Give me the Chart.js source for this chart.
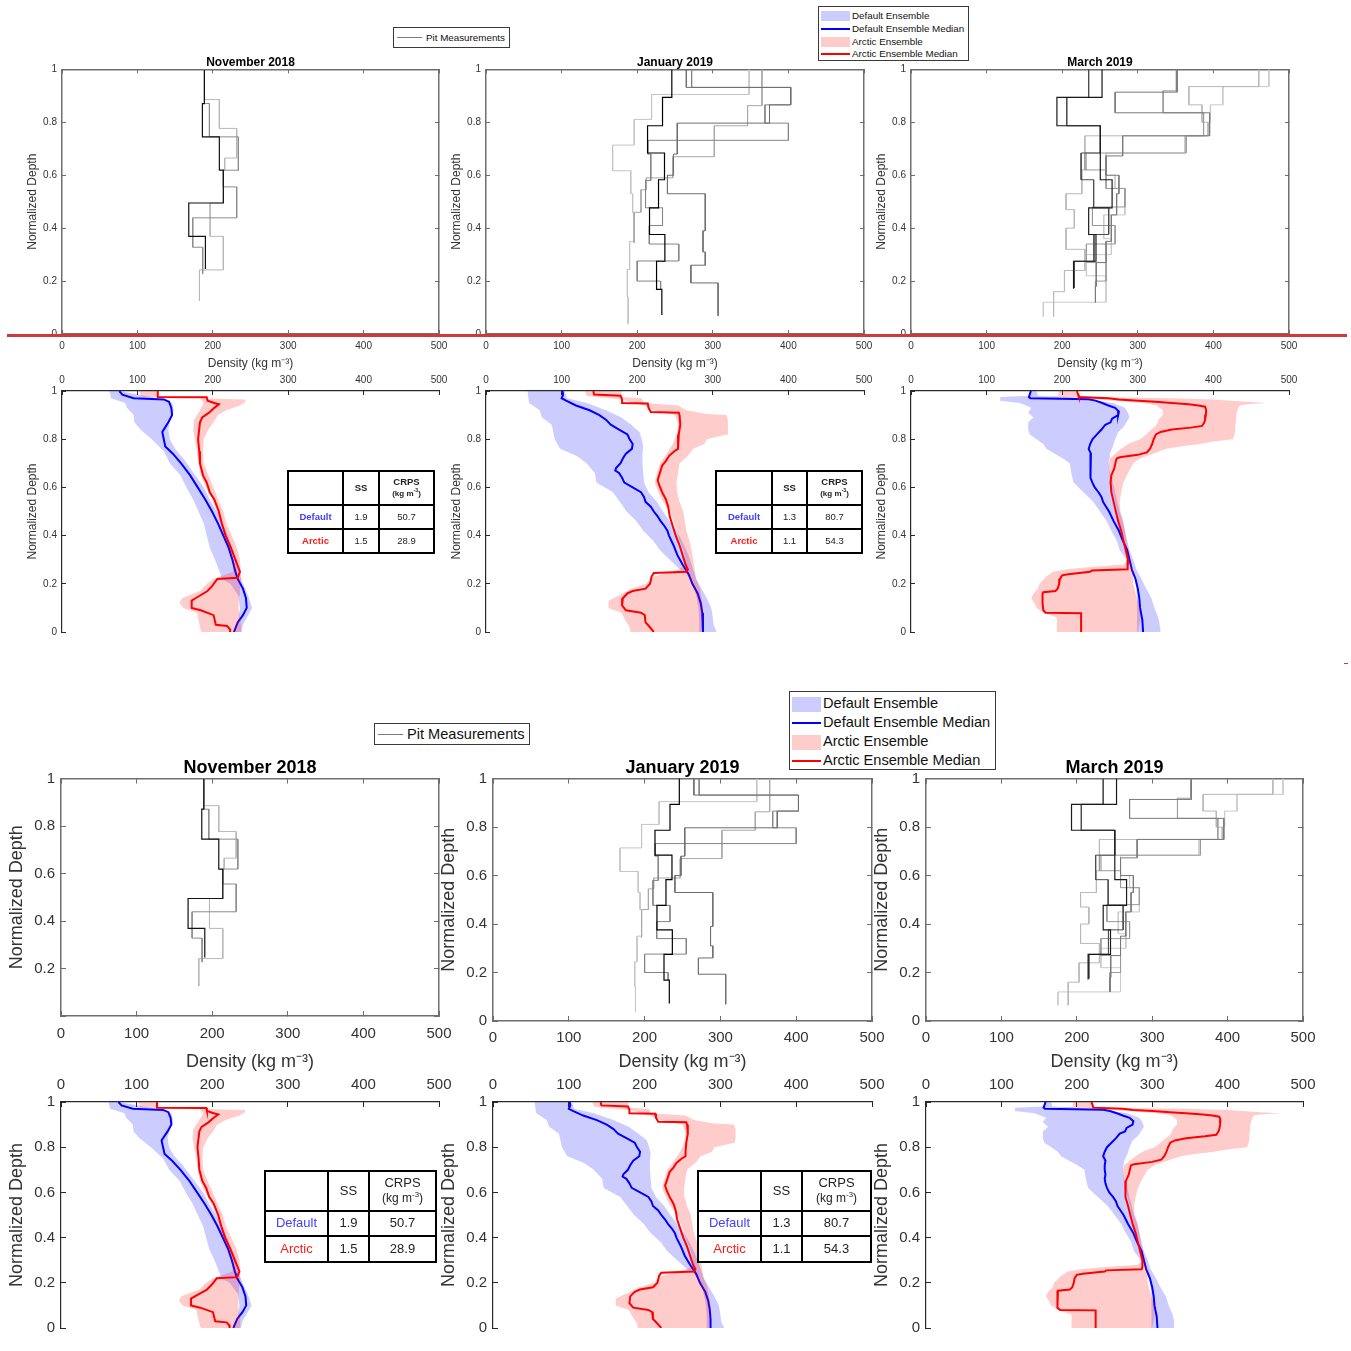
<!DOCTYPE html>
<html>
<head>
<meta charset="utf-8">
<script src="https://cdn.jsdelivr.net/npm/chart.js@4.4.1/dist/chart.umd.min.js"></script>
<style>
html,body{margin:0;padding:0;background:#fff;}
body{position:relative;width:1351px;height:1351px;overflow:hidden;font-family:"Liberation Sans",Arial,Helvetica,sans-serif;}
canvas{position:absolute;}
.lg{position:absolute;box-sizing:border-box;border:1px solid #3a3a3a;background:#fff;}
.lgt{position:absolute;white-space:nowrap;color:#111;}
.cell{position:absolute;display:flex;align-items:center;justify-content:center;text-align:center;color:#222;line-height:1.15;}
</style>
</head>
<body>
<script>
// ---------------- DATA ----------------
const MONTHS = ['November 2018', 'January 2019', 'March 2019'];
const DENSITY_TITLE = 'Density (kg m\u207B\u00B3)';
const DEPTH_TITLE = 'Normalized Depth';

// Pit measurement profiles: layer boundaries (normalized depth) and layer densities (kg m-3)
const NOV_PIT_D = [
  [1, 0.871, 0.745, 0.619, 0.495, 0.369, 0.246],
  [1, 0.871, 0.745, 0.619, 0.556, 0.439, 0.328, 0.227],
  [1, 0.886, 0.777, 0.665, 0.619, 0.495, 0.369, 0.242, 0.126]
];
const NOV_PIT_RHO = [
  [188.9, 186.2, 208.7, 214.0, 168.1, 190.2],
  [188.9, 195.5, 233.9, 214.0, 231.7, 173.4, 186.6],
  [188.9, 208.7, 231.7, 215.8, 214.0, 196.4, 214.0, 182.3]
];
const JAN_PIT_D = [
  [1, 0.894, 0.787, 0.684, 0.583, 0.477, 0.376, 0.275, 0.169, 0.072],
  [1, 0.932, 0.866, 0.797, 0.68, 0.6, 0.53, 0.39, 0.31, 0.26, 0.193, 0.069],
  [1, 0.932, 0.866, 0.797, 0.732, 0.68, 0.58, 0.477, 0.41, 0.34, 0.276, 0.2, 0.17],
  [1, 0.863, 0.787, 0.67, 0.59, 0.545, 0.46, 0.344],
  [1, 0.905, 0.811, 0.714, 0.617, 0.53, 0.459, 0.35, 0.244, 0.14, 0.037]
];
const JAN_PIT_RHO = [
  [245.8, 233.5, 213.7, 236.1, 228.2, 216.3, 236.6, 225.6, 232.6],
  [265, 403, 375, 253, 248, 240, 290, 287, 290, 271, 307],
  [272, 403, 369, 400, 214, 218, 211, 233.5, 216, 255, 200, 231],
  [365, 346, 302, 247, 212, 205, 196],
  [348, 219, 196, 167.5, 191.5, 194, 196, 190, 187, 188]
];
const MAR_PIT_D = [
  [1, 0.894, 0.787, 0.583, 0.477, 0.376, 0.275, 0.171],
  [1, 0.894, 0.787, 0.684, 0.583, 0.477, 0.376, 0.275, 0.175],
  [1, 0.914, 0.836, 0.749, 0.673, 0.60, 0.53, 0.45, 0.35, 0.27, 0.18, 0.12],
  [1, 0.919, 0.836, 0.749, 0.684, 0.62, 0.55, 0.48, 0.41, 0.34, 0.27, 0.2, 0.12],
  [1, 0.935, 0.866, 0.80, 0.749, 0.68, 0.62, 0.53, 0.47, 0.40, 0.32, 0.24, 0.16, 0.065],
  [1, 0.935, 0.866, 0.80, 0.749, 0.684, 0.6, 0.55, 0.45, 0.36, 0.3, 0.22, 0.12, 0.065]
];
const MAR_PIT_RHO = [
  [252.7, 193, 250.4, 266, 235, 244.7, 215],
  [235, 206, 250.4, 225, 241.6, 261.5, 242, 216],
  [352, 270, 395, 280, 258, 275, 272, 265, 258, 245, 244],
  [351, 333.5, 387, 364, 230, 258, 283, 240, 270, 232, 258, 244],
  [460, 367.5, 385, 393, 230, 232, 226, 205, 216, 205, 230, 203, 188.6],
  [473.5, 412.5, 396, 393, 362, 258, 270, 283, 255, 265, 232, 258, 175]
];

// Ensembles: [normalized depth, density] pairs
const NOV_DEF_MED = [[1,76],[0.985,80],[0.97,95],[0.965,135],[0.955,142],[0.93,145],[0.9,146],[0.87,141],[0.85,137],[0.83,133],[0.8,135],[0.77,137],[0.74,147],[0.7,158],[0.65,170],[0.6,180],[0.55,190],[0.5,199],[0.45,207],[0.4,214],[0.35,221],[0.3,226],[0.25,230],[0.22,233],[0.18,240],[0.14,244],[0.1,245],[0.07,240],[0.04,233],[0,228]];
const NOV_DEF_LO = [[1,63],[0.97,65],[0.95,84],[0.93,86],[0.9,95],[0.87,96],[0.84,104],[0.8,119],[0.75,135],[0.7,143],[0.65,157],[0.6,165],[0.55,174],[0.5,181],[0.45,188],[0.4,192],[0.35,196],[0.3,203],[0.25,209],[0.22,212],[0.2,223],[0.15,234],[0.1,236],[0.05,234],[0,227]];
const NOV_DEF_HI = [[1,77],[0.97,126],[0.95,146],[0.92,148],[0.9,147],[0.87,143],[0.84,141],[0.8,143],[0.76,150],[0.72,161],[0.68,170],[0.64,179],[0.6,188],[0.55,196],[0.5,205],[0.45,213],[0.4,220],[0.35,225],[0.3,229],[0.25,234],[0.2,240],[0.15,247],[0.1,252],[0.07,247],[0.03,240],[0,238]];
const NOV_ARC_MED = [[1,127],[0.975,127],[0.974,192],[0.96,193],[0.95,202],[0.945,208],[0.93,202],[0.91,195],[0.89,186],[0.87,183],[0.8,180.5],[0.75,182],[0.7,183],[0.65,187],[0.62,192],[0.58,196],[0.55,202],[0.5,208],[0.45,212],[0.4,217],[0.35,224],[0.3,230],[0.25,236],[0.225,233],[0.22,206],[0.19,199],[0.17,193],[0.14,177],[0.13,172],[0.1,172],[0.09,184],[0.07,201],[0.03,204],[0.025,219],[0.01,223],[0,223]];
const NOV_ARC_LO = [[1,103],[0.98,104],[0.975,110],[0.97,183],[0.95,188],[0.92,183],[0.88,175],[0.84,174],[0.8,176],[0.75,179],[0.7,181],[0.65,184],[0.6,191],[0.55,199],[0.5,205],[0.45,210],[0.4,214],[0.35,221],[0.3,226],[0.25,227],[0.22,201],[0.2,192],[0.17,183],[0.14,159],[0.12,156],[0.1,161],[0.08,179],[0.05,181],[0.02,183],[0,185]];
const NOV_ARC_HI = [[1,126],[0.975,126],[0.965,243],[0.955,244],[0.94,236],[0.92,218],[0.9,207],[0.87,201],[0.84,194],[0.8,188],[0.75,187],[0.7,188],[0.65,194],[0.6,201],[0.55,207],[0.5,214],[0.45,218],[0.4,225],[0.35,232],[0.3,236],[0.25,237],[0.22,238],[0.2,236],[0.15,235],[0.1,234],[0.05,237],[0,238]];

const JAN_DEF_MED = [[1,101],[0.985,102],[0.97,100],[0.96,106],[0.94,119],[0.92,137],[0.9,150],[0.88,159],[0.86,165],[0.84,176],[0.82,187],[0.8,190],[0.78,194],[0.76,193],[0.74,185],[0.72,181],[0.7,178],[0.68,172],[0.67,171],[0.66,176],[0.64,180],[0.62,183],[0.6,194],[0.58,205],[0.56,209],[0.54,211],[0.52,218],[0.5,222],[0.48,227],[0.46,231],[0.44,236],[0.42,240],[0.4,242],[0.36,248],[0.32,253],[0.28,260],[0.26,264],[0.24,268],[0.2,273],[0.16,280],[0.12,284],[0.08,286],[0.04,287],[0,287]];
const JAN_DEF_LO = [[1,55],[0.97,56],[0.95,57],[0.92,71],[0.89,74],[0.86,87],[0.83,89],[0.8,91],[0.76,98],[0.73,120],[0.7,133],[0.66,144],[0.62,146],[0.58,168],[0.54,177],[0.5,186],[0.46,199],[0.42,208],[0.38,221],[0.34,230],[0.3,243],[0.26,256],[0.24,265],[0.2,274],[0.15,278],[0.1,281],[0.05,282],[0,282]];
const JAN_DEF_HI = [[1,104],[0.97,107],[0.95,133],[0.92,159],[0.89,179],[0.86,192],[0.83,203],[0.8,206],[0.77,208],[0.74,207],[0.7,207],[0.66,208],[0.62,209],[0.58,215],[0.54,226],[0.5,234],[0.46,243],[0.42,252],[0.38,259],[0.34,265],[0.3,270],[0.26,274],[0.22,278],[0.18,285],[0.14,292],[0.1,298],[0.06,300],[0.03,301],[0,305]];
const JAN_ARC_MED = [[1,142],[0.985,143],[0.98,178],[0.965,180],[0.95,180],[0.948,214],[0.93,215],[0.913,218],[0.91,255],[0.9,256],[0.86,257],[0.82,255],[0.78,254],[0.76,254],[0.75,249],[0.73,242],[0.71,238],[0.69,233],[0.67,231],[0.65,229],[0.63,227],[0.61,229],[0.58,233],[0.55,238],[0.52,241],[0.48,243],[0.44,247],[0.4,251],[0.36,256],[0.32,260],[0.28,264],[0.26,267],[0.25,265],[0.245,222],[0.23,219],[0.2,217],[0.18,211],[0.17,194],[0.16,187],[0.14,181],[0.11,180],[0.09,185],[0.08,205],[0.07,210],[0.04,211],[0.03,214],[0,222]];
const JAN_ARC_LO = [[1,131],[0.98,133],[0.975,144],[0.965,179],[0.94,208],[0.92,221],[0.9,250],[0.86,254],[0.82,252],[0.78,247],[0.74,239],[0.7,230],[0.66,226],[0.62,223],[0.58,228],[0.54,234],[0.5,243],[0.46,248],[0.42,252],[0.38,256],[0.34,261],[0.3,264],[0.27,261],[0.25,248],[0.23,221],[0.2,212],[0.18,193],[0.16,181],[0.13,162],[0.1,162],[0.08,179],[0.05,184],[0.02,190],[0,191]];
const JAN_ARC_HI = [[1,179],[0.975,179],[0.97,206],[0.95,208],[0.94,254],[0.92,265],[0.905,292],[0.9,318],[0.88,320],[0.84,320],[0.82,319],[0.8,292],[0.78,289],[0.76,274],[0.73,267],[0.7,256],[0.66,254],[0.62,252],[0.58,253],[0.54,256],[0.5,261],[0.46,263],[0.42,265],[0.38,269],[0.34,272],[0.3,274],[0.26,276],[0.22,278],[0.18,283],[0.14,285],[0.1,287],[0.05,287],[0,285]];

const MAR_DEF_MED = [[1,158.6],[0.985,157],[0.975,156],[0.97,158],[0.966,235],[0.96,244],[0.95,253],[0.94,261],[0.93,270],[0.915,275],[0.9,274],[0.885,266],[0.87,264],[0.86,257],[0.84,252],[0.82,246],[0.8,240],[0.78,237],[0.76,235],[0.74,238],[0.72,237],[0.7,237],[0.68,238],[0.66,237],[0.64,238],[0.62,240],[0.6,243],[0.58,248],[0.56,252],[0.54,254],[0.52,258],[0.5,262],[0.46,268],[0.42,275],[0.38,280],[0.34,286],[0.3,289],[0.26,292],[0.22,297],[0.18,300],[0.14,302],[0.1,303],[0.05,306],[0,307]];
const MAR_DEF_LO = [[1,157],[0.98,157],[0.975,118],[0.96,118],[0.95,144],[0.93,159],[0.91,155],[0.89,162],[0.87,155],[0.84,155],[0.82,157],[0.8,166],[0.78,175],[0.76,179],[0.74,190],[0.72,201],[0.7,210],[0.66,212],[0.62,215],[0.58,228],[0.54,241],[0.5,250],[0.46,259],[0.42,265],[0.38,272],[0.34,276],[0.3,285],[0.26,294],[0.22,296],[0.18,298],[0.14,299],[0.1,299],[0.05,299],[0,299]];
const MAR_DEF_HI = [[1,166],[0.98,168],[0.97,223],[0.965,237],[0.95,267],[0.93,283],[0.91,287],[0.89,289],[0.87,285],[0.85,281],[0.83,274],[0.8,270],[0.77,267],[0.74,263],[0.72,262],[0.7,261],[0.66,263],[0.62,267],[0.58,270],[0.54,273],[0.5,276],[0.46,280],[0.42,283],[0.38,286],[0.34,289],[0.3,294],[0.26,298],[0.22,305],[0.18,311],[0.14,318],[0.1,322],[0.06,327],[0.03,329],[0,330]];
const MAR_ARC_MED = [[1,219.5],[0.985,221],[0.975,222],[0.97,261],[0.965,275],[0.96,301],[0.955,323],[0.95,345],[0.945,367],[0.94,380],[0.935,389],[0.92,390.5],[0.9,390],[0.88,389],[0.87,388],[0.855,385],[0.848,370],[0.84,345],[0.83,330],[0.82,324],[0.8,321],[0.78,319],[0.76,316],[0.745,312],[0.735,300],[0.725,276],[0.72,272],[0.71,271],[0.68,269],[0.65,265],[0.62,264],[0.58,265],[0.54,268],[0.5,271],[0.46,274],[0.42,278],[0.38,281],[0.34,284],[0.3,287],[0.27,287],[0.26,286],[0.255,239],[0.25,237],[0.24,208],[0.235,200],[0.22,197],[0.2,196],[0.18,194],[0.17,191],[0.165,175],[0.16,174],[0.12,174],[0.09,175],[0.08,178],[0.078,225],[0,225]];
const MAR_ARC_LO = [[1,195],[0.98,195],[0.975,179],[0.97,219],[0.96,267],[0.95,307],[0.94,325],[0.92,333],[0.9,333],[0.88,327],[0.86,325],[0.84,318],[0.82,311],[0.8,303],[0.78,287],[0.76,278],[0.74,270],[0.72,263],[0.7,261],[0.66,262],[0.62,263],[0.58,267],[0.54,270],[0.5,273],[0.46,275],[0.42,278],[0.38,283],[0.34,285],[0.3,287],[0.28,281],[0.27,237],[0.26,206],[0.25,188],[0.23,179],[0.2,170],[0.18,168],[0.16,162],[0.14,159],[0.12,163],[0.1,166],[0.08,175],[0.06,193],[0.03,193],[0,193]];
const MAR_ARC_HI = [[1,219],[0.98,219],[0.975,241],[0.97,347],[0.965,400],[0.955,444],[0.95,470],[0.945,444],[0.94,435],[0.93,433],[0.9,430],[0.88,430],[0.86,429],[0.84,429],[0.82,428],[0.8,426],[0.79,400],[0.78,382],[0.77,356],[0.76,338],[0.74,320],[0.72,303],[0.7,294],[0.66,287],[0.62,281],[0.58,278],[0.54,276],[0.5,277],[0.46,281],[0.42,283],[0.38,285],[0.34,287],[0.3,290],[0.28,292],[0.25,294],[0.2,294],[0.15,298],[0.1,303],[0.05,303],[0,300]];

// Skill table values
const TABLE_ROWS = ['Default', 'Arctic'];
const NOV_SS = [1.9, 1.5];
const NOV_CRPS = [50.7, 28.9];
const JAN_SS = [1.3, 1.1];
const JAN_CRPS = [80.7, 54.3];

// ---------------- STYLES ----------------
const FONT = '"Liberation Sans", Arial, Helvetica, sans-serif';
const NOV_PIT_COL = ['#111111', '#8c8c8c', '#b8b8b8'];
const JAN_PIT_COL = ['#000000', '#6e6e6e', '#858585', '#a8a8a8', '#c4c4c4'];
const MAR_PIT_COL = ['#1a1a1a', '#4d4d4d', '#7a7a7a', '#9a9a9a', '#b8b8b8', '#cacaca'];
const DEF_LINE = '#0000ff', ARC_LINE = '#ff0000';
const DEF_FILL = 'rgba(0,0,255,0.2)', ARC_FILL = 'rgba(255,0,0,0.2)';

// ---------------- HELPERS ----------------
function stepPoints(depths, rho) {
  const pts = [];
  for (let i = 0; i < rho.length; i++) {
    pts.push({x: rho[i], y: depths[i]});
    pts.push({x: rho[i], y: depths[i + 1]});
  }
  return pts;
}
function curvePoints(pairs) { return pairs.map(p => ({x: p[1], y: p[0]})); }
function bandPoints(lo, hi) { return curvePoints(lo).concat(curvePoints(hi).reverse()); }
function fmtDepth(v) { const r = Math.round(v * 10) / 10; return (r === 0 || r === 1) ? String(r) : r.toFixed(1); }

function pitDatasets(D, RHO, COL) {
  const ds = [];
  for (let i = 0; i < D.length; i++) {
    ds.push({data: stepPoints(D[i], RHO[i]), showLine: true, pointRadius: 0, borderColor: COL[i],
      borderWidth: i === 0 ? 1.2 : 1, fill: false, tension: 0});
  }
  return ds; // first = drawn on top
}
function ensDatasets(dMed, dLo, dHi, aMed, aLo, aHi) {
  return [
    {data: curvePoints(aMed), showLine: true, pointRadius: 0, borderColor: ARC_LINE, borderWidth: 2, fill: false, tension: 0},
    {data: bandPoints(aLo, aHi), showLine: true, pointRadius: 0, borderColor: 'rgba(0,0,0,0)', borderWidth: 0, backgroundColor: ARC_FILL, fill: 'shape', tension: 0},
    {data: curvePoints(dMed), showLine: true, pointRadius: 0, borderColor: DEF_LINE, borderWidth: 2, fill: false, tension: 0},
    {data: bandPoints(dLo, dHi), showLine: true, pointRadius: 0, borderColor: 'rgba(0,0,0,0)', borderWidth: 0, backgroundColor: DEF_FILL, fill: 'shape', tension: 0}
  ];
}

function makePanel(spec) {
  const big = spec.big, pit = spec.kind === 'pit';
  const fs = big ? 15 : 10, ts = big ? 18 : 12;
  const lhT = ts * 1.2;
  const tl = big ? -5 : -4;
  const [L, T, R, B] = spec.rect;
  const W = R - L, H = B - T;
  const ML = big ? 62 : 46;
  const axisColor = pit ? '#6f6f6f' : '#2a2a2a';
  const axisW = pit ? 1.5 : 1.2;
  let MT, MB, MR, padR = 0, padB = 0;
  if (pit) { MT = 3 + lhT; MB = big ? 62 : 42; MR = ML; }
  else { MT = big ? 34 : 24; MB = 0; MR = 0; padR = 40; padB = big ? 26 : 20; }
  const cw = Math.round(ML + W + MR + padR), ch = Math.round(MT + H + MB + padB);
  const canvas = document.createElement('canvas');
  canvas.width = cw; canvas.height = ch;
  canvas.style.left = (L - ML) + 'px';
  canvas.style.top = (T - MT) + 'px';
  canvas.style.width = cw + 'px';
  canvas.style.height = ch + 'px';
  document.body.appendChild(canvas);

  const yOff = big ? 43.5 : 29;
  const grid = {drawOnChartArea: false, drawTicks: true, tickLength: tl, color: axisColor, tickColor: axisColor, lineWidth: 1};
  const border = {display: true, color: axisColor, width: axisW};
  const tickFont = {family: FONT, size: fs};
  const scales = {
    y: {type: 'linear', position: 'left', min: 0, max: 1,
      ticks: {stepSize: 0.2, font: tickFont, color: '#333', padding: big ? 11 : 9,
        callback: v => (spec.hideZero && Math.abs(v) < 1e-9) ? '' : fmtDepth(v)},
      grid: grid, border: border,
      title: {display: true, text: DEPTH_TITLE, font: {family: FONT, size: ts}, color: '#333',
        padding: {top: ML - yOff - lhT / 2, bottom: 0}},
      afterFit: s => { s.width = ML; }}
  };
  if (pit) {
    scales.x = {type: 'linear', position: 'bottom', min: 0, max: 500,
      ticks: {stepSize: 100, font: tickFont, color: '#333', padding: spec.xTickPad, maxRotation: 0},
      grid: grid, border: border,
      title: {display: true, text: DENSITY_TITLE, font: {family: FONT, size: ts}, color: '#333',
        padding: {top: 0, bottom: MB - spec.xTitleOff - lhT / 2}},
      afterFit: s => { s.height = MB; }};
    scales.x2 = {type: 'linear', axis: 'x', position: 'top', min: 0, max: 500,
      ticks: {display: false, stepSize: 100}, grid: grid, border: border,
      afterFit: s => { s.height = 0; }};
    scales.y2 = {type: 'linear', axis: 'y', position: 'right', min: 0, max: 1,
      ticks: {display: false, stepSize: 0.2}, grid: grid, border: border,
      afterFit: s => { s.width = MR; }};
  } else {
    scales.x = {type: 'linear', position: 'top', min: 0, max: 500,
      ticks: {stepSize: 100, font: tickFont, color: '#333', padding: big ? 13 : 9, maxRotation: 0},
      grid: grid, border: border,
      afterFit: s => { s.height = MT; }};
  }
  return new Chart(canvas, {
    type: 'scatter',
    data: {datasets: spec.datasets},
    options: {
      responsive: false, animation: false, devicePixelRatio: 1, events: [],
      layout: {padding: {left: 0, top: 0, right: padR, bottom: padB}},
      scales: scales,
      plugins: {
        legend: {display: false}, tooltip: {enabled: false},
        title: {display: pit, text: spec.title || '', color: '#000',
          font: {family: FONT, size: ts, weight: 'bold'}, padding: {top: 3, bottom: 0}}
      }
    }
  });
}

function addDiv(parent, css, html) {
  const d = document.createElement('div');
  d.style.cssText = css;
  if (html !== undefined) d.innerHTML = html;
  parent.appendChild(d);
  return d;
}

function makeTable(x, y, colW, rowH, big, ss, crps) {
  const tw = colW.reduce((a, b) => a + b, 0), th = rowH.reduce((a, b) => a + b, 0);
  const wrap = addDiv(document.body, `position:absolute;left:${x}px;top:${y}px;width:${tw}px;height:${th}px;background:#fff;`);
  const xs = [0], ys = [0];
  colW.forEach(w => xs.push(xs[xs.length - 1] + w));
  rowH.forEach(h => ys.push(ys[ys.length - 1] + h));
  const lw = 2;
  const fsz = big ? 13 : 9.5, fsub = big ? 12 : 8;
  const wt = big ? 'normal' : 'bold';
  const cell = (c, r, html, color, weight, size) => addDiv(wrap,
    `left:${xs[c]}px;top:${ys[r]}px;width:${colW[c]}px;height:${rowH[r]}px;font-size:${size}px;font-weight:${weight};color:${color};`, html).className = 'cell';
  cell(1, 0, 'SS', '#222', wt, fsz);
  cell(2, 0, `<div>CRPS<br><span style="font-size:${fsub}px">(kg m<sup style="font-size:${fsub*0.65}px">-3</sup>)</span></div>`, '#222', wt, fsz);
  const rowCols = ['#4040ff', '#ff1a1a'];
  for (let i = 0; i < TABLE_ROWS.length; i++) {
    cell(0, i + 1, TABLE_ROWS[i], rowCols[i], wt, fsz);
    cell(1, i + 1, ss[i].toFixed(1), '#222', 'normal', fsz);
    cell(2, i + 1, crps[i].toFixed(1), '#222', 'normal', fsz);
  }
  xs.forEach(px => addDiv(wrap, `position:absolute;left:${px - lw / 2}px;top:${-lw / 2}px;width:${lw}px;height:${th + lw}px;background:#000;`));
  ys.forEach(py => addDiv(wrap, `position:absolute;left:${-lw / 2}px;top:${py - lw / 2}px;width:${tw + lw}px;height:${lw}px;background:#000;`));
}

function pitLegend(x, y, w, h, lineL, lineW, textL, fsz) {
  const box = addDiv(document.body, `left:${x}px;top:${y}px;width:${w}px;height:${h}px;`);
  box.className = 'lg';
  addDiv(box, `position:absolute;left:${lineL}px;top:${h / 2 - 1.5}px;width:${lineW}px;height:1px;background:#7a7a7a;`);
  const t = addDiv(box, `left:${textL}px;top:0px;height:${h - 2}px;line-height:${h - 2}px;font-size:${fsz}px;`, 'Pit Measurements');
  t.className = 'lgt';
}

function ensLegend(x, y, w, h, rowsY, swL, swW, patchH, textL, fsz) {
  const box = addDiv(document.body, `left:${x}px;top:${y}px;width:${w}px;height:${h}px;`);
  box.className = 'lg';
  const labels = ['Default Ensemble', 'Default Ensemble Median', 'Arctic Ensemble', 'Arctic Ensemble Median'];
  const kinds = [['patch', DEF_FILL], ['line', DEF_LINE], ['patch', ARC_FILL], ['line', ARC_LINE]];
  for (let i = 0; i < 4; i++) {
    const cy = rowsY[i];
    if (kinds[i][0] === 'patch') addDiv(box, `position:absolute;left:${swL}px;top:${cy - patchH / 2}px;width:${swW}px;height:${patchH}px;background:${kinds[i][1]};`);
    else addDiv(box, `position:absolute;left:${swL}px;top:${cy - 1}px;width:${swW}px;height:2px;background:${kinds[i][1]};`);
    const t = addDiv(box, `left:${textL}px;top:${cy - fsz * 0.6}px;height:${fsz * 1.2}px;line-height:${fsz * 1.2}px;font-size:${fsz}px;`, labels[i]);
    t.className = 'lgt';
  }
}

// ---------------- BUILD ----------------
const PIT_SETS = [
  () => pitDatasets(NOV_PIT_D, NOV_PIT_RHO, NOV_PIT_COL),
  () => pitDatasets(JAN_PIT_D, JAN_PIT_RHO, JAN_PIT_COL),
  () => pitDatasets(MAR_PIT_D, MAR_PIT_RHO, MAR_PIT_COL)
];
const ENS_SETS = [
  () => ensDatasets(NOV_DEF_MED, NOV_DEF_LO, NOV_DEF_HI, NOV_ARC_MED, NOV_ARC_LO, NOV_ARC_HI),
  () => ensDatasets(JAN_DEF_MED, JAN_DEF_LO, JAN_DEF_HI, JAN_ARC_MED, JAN_ARC_LO, JAN_ARC_HI),
  () => ensDatasets(MAR_DEF_MED, MAR_DEF_LO, MAR_DEF_HI, MAR_ARC_MED, MAR_ARC_LO, MAR_ARC_HI)
];

// Top (small) figure
const SMALL_X = [[62, 439], [486, 864], [911, 1289]];
for (let m = 0; m < 3; m++) {
  makePanel({kind: 'pit', big: false, rect: [SMALL_X[m][0], 69, SMALL_X[m][1], 334], title: MONTHS[m],
    xTickPad: 10, xTitleOff: 30, datasets: PIT_SETS[m]()});
  makePanel({kind: 'ens', big: false, rect: [SMALL_X[m][0], 391, SMALL_X[m][1], 632], datasets: ENS_SETS[m]()});
}
// Bottom (large) figure
const BIG_X = [[61, 439], [493, 872], [926, 1303]];
const BIG_B = [1016, 1021, 1021];
for (let m = 0; m < 3; m++) {
  makePanel({kind: 'pit', big: true, rect: [BIG_X[m][0], 779, BIG_X[m][1], BIG_B[m]], title: MONTHS[m],
    xTickPad: m === 0 ? 14 : 13, xTitleOff: 1062 - BIG_B[m], hideZero: m === 0, datasets: PIT_SETS[m]()});
  makePanel({kind: 'ens', big: true, rect: [BIG_X[m][0], 1102, BIG_X[m][1], 1328], datasets: ENS_SETS[m]()});
}

// Tables
makeTable(288, 471, [55, 36, 55], [34, 24, 24], false, NOV_SS, NOV_CRPS);
makeTable(716, 471, [56, 35, 55], [34, 24, 24], false, JAN_SS, JAN_CRPS);
makeTable(265, 1171, [63, 41, 67], [40, 25, 26], true, NOV_SS, NOV_CRPS);
makeTable(698, 1171, [63, 41, 69], [40, 25, 26], true, JAN_SS, JAN_CRPS);

// Legends
pitLegend(393, 27, 117, 21, 3, 25, 32, 9.8);
ensLegend(818, 6, 151, 55, [9, 22, 34.5, 47], 2, 29, 10, 33, 9.8);
pitLegend(374, 723, 156, 22, 3, 25, 32, 14.6);
ensLegend(789, 691, 207, 79, [12, 31, 50, 69], 2, 29, 15, 33, 14.6);

// Separator
addDiv(document.body, 'position:absolute;left:7px;top:334px;width:1340px;height:3px;background:#d0383c;z-index:5;');
addDiv(document.body, 'position:absolute;left:1344px;top:663px;width:4px;height:1px;background:#d0383c;');
</script>
</body>
</html>
